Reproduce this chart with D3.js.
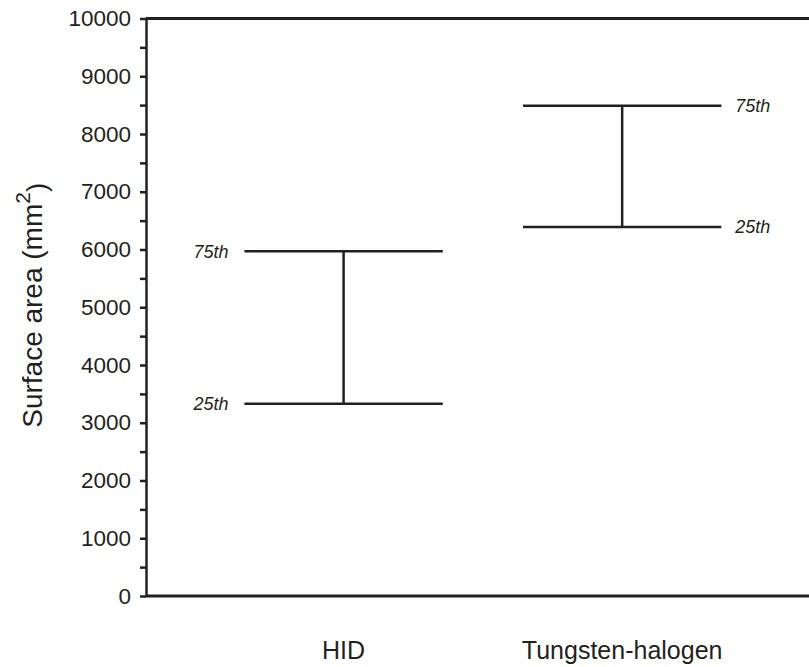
<!DOCTYPE html>
<html lang="en">
<head>
<meta charset="UTF-8"/>
<title>Surface area percentiles</title>
<script src="https://d3js.org/d3.v7.min.js"></script>
<style>
  body { margin: 0; background: #fff; }
  svg text { font-family: "Liberation Sans", Arial, Helvetica, sans-serif; fill: #231f20; }
</style>
</head>
<body>
<div id="chart"></div>
<script>
    // Data
    var categories = ["HID", "Tungsten-halogen"];
    var p25 = [3330, 6390];
    var p75 = [5970, 8490];
    var tickValues = d3.range(0, 10001, 500);

    // Window size
    var w = 809;
    var h = 667;
    var margin = {top: 18.5, right: 0, bottom: 71, left: 146};
    var iw = w - margin.left - margin.right;
    var ih = h - margin.top - margin.bottom;
    var ink = "#231f20";

    var svg = d3.select("#chart")
                .append("svg")
                .attr("width", w)
                .attr("height", h);

    var g = svg.append("g")
               .attr("transform", "translate(" + margin.left + "," + margin.top + ")");

    var yScale = d3.scaleLinear()
                   .domain([0, 10000])
                   .range([ih, 0]);

    var xScale = d3.scalePoint()
                   .domain(categories)
                   .range([0, iw])
                   .padding(0.69)
                   .align(0.514);

    var capHalf = xScale.step() * 0.356;

    // Y axis
    var yAxis = d3.axisLeft(yScale)
                  .tickValues(tickValues)
                  .tickSize(6)
                  .tickSizeOuter(0)
                  .tickPadding(9)
                  .tickFormat(function(d) { return d % 1000 === 0 ? d : ""; });

    var ya = g.append("g").call(yAxis);
    ya.select(".domain").attr("stroke", ink).attr("stroke-width", 2.5);
    ya.selectAll(".tick line").attr("stroke", ink).attr("stroke-width", 2.5);
    ya.selectAll(".tick text")
      .attr("font-size", 22.5)
      .attr("fill", ink)
      .style("font-family", "'Liberation Sans', Arial, sans-serif");

    // Top and bottom frame lines
    g.selectAll("line.frame")
     .data([0, 10000])
     .enter()
     .append("line")
     .attr("class", "frame")
     .attr("x1", 0)
     .attr("x2", iw)
     .attr("y1", function(d) { return yScale(d); })
     .attr("y2", function(d) { return yScale(d); })
     .attr("stroke", ink)
     .attr("stroke-width", 3);

    // Percentile ranges
    var groups = g.selectAll("g.cat")
                  .data(categories)
                  .enter()
                  .append("g")
                  .attr("class", "cat");

    groups.append("line")
          .attr("x1", function(d) { return xScale(d); })
          .attr("x2", function(d) { return xScale(d); })
          .attr("y1", function(d, i) { return yScale(p25[i]); })
          .attr("y2", function(d, i) { return yScale(p75[i]); })
          .attr("stroke", ink)
          .attr("stroke-width", 2.5);

    [p25, p75].forEach(function(vals, k) {
        var label = k === 0 ? "25th" : "75th";
        groups.append("line")
              .attr("x1", function(d) { return xScale(d) - capHalf; })
              .attr("x2", function(d) { return xScale(d) + capHalf; })
              .attr("y1", function(d, i) { return yScale(vals[i]); })
              .attr("y2", function(d, i) { return yScale(vals[i]); })
              .attr("stroke", ink)
              .attr("stroke-width", 2.5);

        groups.append("text")
              .attr("x", function(d, i) {
                  return i === 0 ? xScale(d) - capHalf - 16 : xScale(d) + capHalf + 14;
              })
              .attr("y", function(d, i) { return yScale(vals[i]); })
              .attr("dy", "0.35em")
              .attr("text-anchor", function(d, i) { return i === 0 ? "end" : "start"; })
              .attr("font-size", 18)
              .attr("font-style", "italic")
              .text(label);
    });

    // Category labels
    g.selectAll("text.cat-label")
     .data(categories)
     .enter()
     .append("text")
     .attr("class", "cat-label")
     .attr("x", function(d) { return xScale(d); })
     .attr("y", ih + 63)
     .attr("text-anchor", "middle")
     .attr("font-size", 25)
     .text(function(d) { return d; });

    // Y axis title
    var yt = svg.append("text")
                .attr("transform", "translate(42," + (margin.top + ih / 2 - 2) + ") rotate(-90)")
                .attr("text-anchor", "middle")
                .attr("font-size", 28);
    yt.append("tspan").text("Surface area (mm");
    yt.append("tspan").attr("font-size", 21).attr("dy", "-0.55em").text("2");
    yt.append("tspan").attr("dy", "0.55em").text(")");
</script>
</body>
</html>
